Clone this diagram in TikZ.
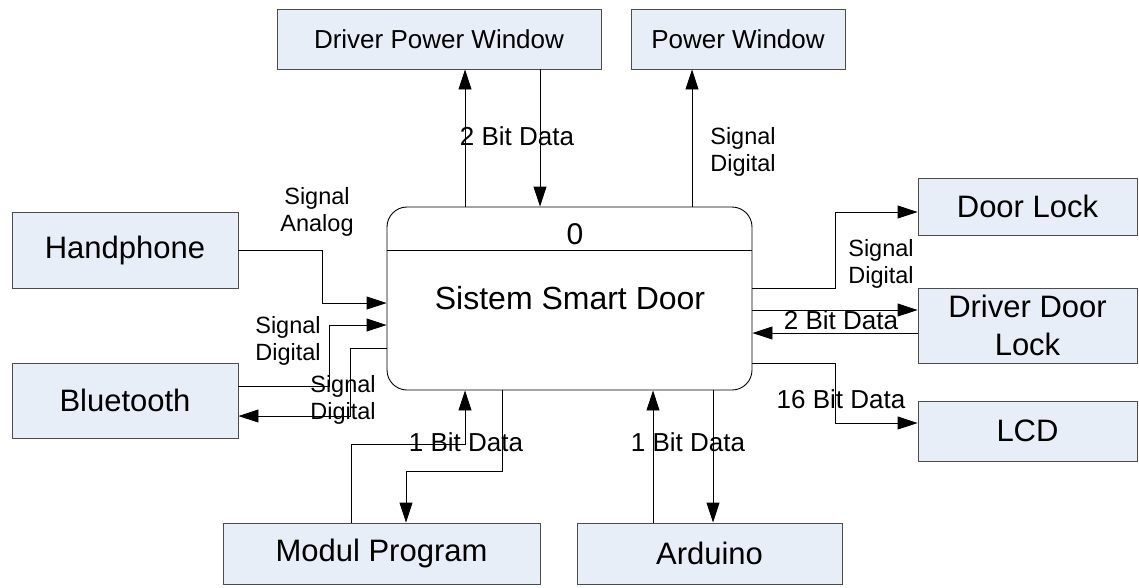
\documentclass[tikz,border=0pt]{standalone}
\usepackage{fontspec}
\setmainfont{Liberation Sans}
\usepackage{tikz}
\usetikzlibrary{arrows.meta,calc,positioning}
\definecolor{boxfill}{RGB}{232,238,248}

\begin{document}
\begin{tikzpicture}[
            x=1pt, y=-1pt,
            >={Triangle[length=20pt,width=13pt]},
            box/.style={draw=black!70, fill=boxfill, line width=0.9pt, rectangle, align=center, inner sep=0pt, font=\fontsize{31}{38}\selectfont},
            smallbox/.style={box, font=\fontsize{26}{31}\selectfont},
            core/.style={draw, line width=0.9pt, rectangle, rounded corners=20pt, minimum width=365pt, minimum height=183pt},
            flow/.style={->, line width=0.9pt},
            lab/.style={align=center, inner sep=0pt, font=\fontsize{26}{31}\selectfont},
            sig/.style={align=center, inner sep=0pt, font=\fontsize{23.5}{27}\selectfont}
        ]
        \useasboundingbox (0,0) rectangle (1139,587);

        % nodes
        \node[core] (main) at (569.5,298.5) {};
        \coordinate (div) at (0,250);
        \node[inner sep=0pt, font=\fontsize{30}{36}\selectfont] (num) at (575,234) {0};
        \node[inner sep=0pt, font=\fontsize{32}{38}\selectfont] (title) at (570,298) {Sistem Smart Door};

        \node[smallbox, minimum width=324pt, minimum height=60pt] (dpw) at (439,39) {Driver Power Window};
        \node[smallbox, minimum width=214pt, minimum height=60pt] (pw) at (738,39) {Power Window};
        \node[box, minimum width=226pt, minimum height=76pt] (hp) at (125,250) {Handphone};
        \node[box, minimum width=226pt, minimum height=75pt] (bt) at (125,400.5) {Bluetooth};
        \node[box, minimum width=219pt, minimum height=57pt] (dl) at (1027.5,206.5) {\raisebox{-4pt}{Door Lock}};
        \node[box, minimum width=219pt, minimum height=75pt] (ddl) at (1027.5,325.5) {Driver Door\\Lock};
        \node[box, minimum width=219pt, minimum height=60pt] (lcd) at (1027.5,431) {\raisebox{-4pt}{LCD}};
        \node[box, minimum width=317pt, minimum height=61pt] (mp) at (381.5,553.5) {Modul Program};
        \node[box, minimum width=265pt, minimum height=61pt] (ard) at (709.5,553.5) {Arduino};

        % arrows
        \draw[line width=0.9pt] (main.west |- div) -- (main.east |- div);
        \draw[flow] (main.north -| 465,0) -- (dpw.south -| 465,0);
        \draw[flow] (dpw.south -| 540,0) -- (main.north -| 540,0);
        \draw[flow] (main.north -| 692,0) -- (pw.south -| 692,0);
        \draw[flow] (hp.east) -- ++(84,0) |- (main.west |- 0,303);
        \draw[flow] (bt.east |- 0,386) -- ++(91,0) |- (main.west |- 0,325);
        \draw[flow] (main.west |- 0,348) -- ++(-36,0) |- (bt.east |- 0,416);
        \draw[flow] (main.east |- 0,288) -- ++(83,0) |- (dl.west |- 0,212);
        \draw[flow] (main.east |- 0,310) -- (ddl.west |- 0,310);
        \draw[flow] (ddl.west |- 0,333) -- (main.east |- 0,333);
        \draw[flow] (main.east |- 0,363) -- ++(83,0) |- (lcd.west |- 0,423);
        \draw[flow] (mp.north -| 351,0) -- ++(0,-78) -| (main.south -| 465,0);
        \draw[flow] (main.south -| 502,0) -- ++(0,81) -| (mp.north -| 406,0);
        \draw[flow] (ard.north -| 653,0) -- (main.south -| 653,0);
        \draw[flow] (main.south -| 713,0) -- (ard.north -| 713,0);

        % labels
        \node[lab] (l2top) at (517,136) {2 Bit Data};
        \node[sig] (lsdtop) at (743,152) {Signal\\Digital};
        \node[sig] (lsa) at (317,212) {Signal\\Analog};
        \node[sig] (lsdin) at (288,341) {Signal\\Digital};
        \node[sig] (lsdout) at (343,400) {Signal\\Digital};
        \node[sig] (lsddl) at (881,264) {Signal\\Digital};
        \node[lab] (l2ddl) at (841,320) {2 Bit Data};
        \node[lab] (l16) at (841,399) {16 Bit Data};
        \node[lab] (l1mp) at (466,442) {1 Bit Data};
        \node[lab] (l1ard) at (688,442) {1 Bit Data};

    \end{tikzpicture}
\end{document}
